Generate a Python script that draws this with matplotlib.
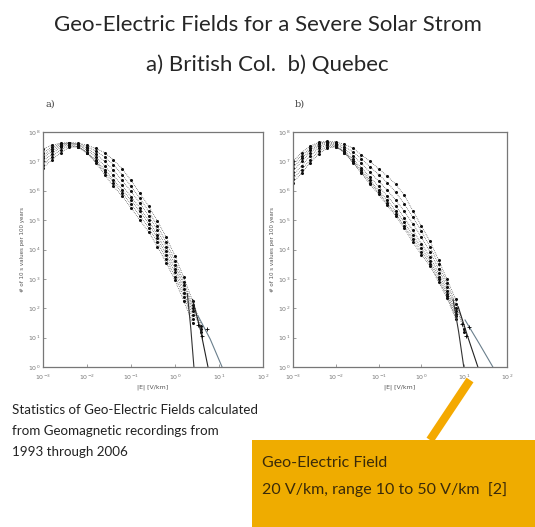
import matplotlib
matplotlib.use("Agg")
import matplotlib.pyplot as plt
from matplotlib.lines import Line2D
from matplotlib.patches import Rectangle
import numpy as np

# log10 of |E| [V/km] where the 10 s statistics were sampled
LX = [-3.0, -2.8, -2.6, -2.4, -2.2, -2.0, -1.8, -1.6, -1.4, -1.2, -1.0,
      -0.8, -0.6, -0.4, -0.2, 0.0, 0.2, 0.4, 0.6]
RX = [-3.0, -2.8, -2.6, -2.4, -2.2, -2.0, -1.8, -1.6, -1.4, -1.2, -1.0,
      -0.8, -0.6, -0.4, -0.2, 0.0, 0.2, 0.4, 0.6, 0.8, 1.0]

# log10 of number of 10 s values per 100 years, one list per station
bc_curves = [
    [7.42, 7.55, 7.62, 7.64, 7.62, 7.55, 7.44, 7.30, 7.05, 6.75, 6.35, 5.92, 5.48, 4.97, 4.42, 3.78, 3.05, 2.25, 1.40],
    [7.30, 7.48, 7.60, 7.63, 7.60, 7.50, 7.35, 7.15, 6.88, 6.55, 6.15, 5.75, 5.30, 4.80, 4.25, 3.62, 2.90, 2.10, 1.30],
    [7.20, 7.42, 7.57, 7.62, 7.57, 7.44, 7.25, 7.00, 6.70, 6.35, 5.98, 5.58, 5.15, 4.65, 4.10, 3.48, 2.78, 2.00, 1.20],
    [7.10, 7.35, 7.53, 7.60, 7.55, 7.38, 7.15, 6.85, 6.52, 6.18, 5.80, 5.42, 5.00, 4.50, 3.95, 3.35, 2.65, 1.90],
    [7.00, 7.25, 7.48, 7.57, 7.50, 7.30, 7.05, 6.72, 6.38, 6.03, 5.68, 5.30, 4.88, 4.38, 3.82, 3.22, 2.52, 1.78],
    [6.88, 7.15, 7.40, 7.53, 7.48, 7.28, 7.00, 6.65, 6.28, 5.92, 5.55, 5.15, 4.74, 4.25, 3.68, 3.08, 2.40, 1.65],
    [6.78, 7.05, 7.30, 7.48, 7.50, 7.30, 6.95, 6.55, 6.15, 5.82, 5.42, 5.00, 4.60, 4.10, 3.55, 2.95, 2.25, 1.50],
]
qc_curves = [
    [7.00, 7.30, 7.52, 7.65, 7.68, 7.66, 7.58, 7.45, 7.22, 7.00, 6.75, 6.50, 6.22, 5.85, 5.32, 4.80, 4.28, 3.65, 2.98, 2.30, 1.30],
    [6.90, 7.20, 7.45, 7.62, 7.66, 7.62, 7.50, 7.33, 7.08, 6.82, 6.55, 6.28, 5.95, 5.55, 5.10, 4.62, 4.10, 3.50, 2.85, 2.15, 1.20],
    [6.78, 7.10, 7.38, 7.58, 7.64, 7.58, 7.42, 7.20, 6.93, 6.63, 6.33, 6.02, 5.68, 5.30, 4.88, 4.42, 3.92, 3.35, 2.72, 2.02],
    [6.65, 7.00, 7.30, 7.52, 7.60, 7.55, 7.35, 7.08, 6.78, 6.46, 6.15, 5.82, 5.48, 5.08, 4.65, 4.20, 3.75, 3.20, 2.60, 1.90],
    [6.52, 6.85, 7.18, 7.45, 7.55, 7.52, 7.32, 7.02, 6.70, 6.35, 6.02, 5.68, 5.32, 4.92, 4.50, 4.05, 3.62, 3.08, 2.50, 1.80],
    [6.40, 6.72, 7.05, 7.35, 7.50, 7.50, 7.30, 6.98, 6.64, 6.28, 5.95, 5.58, 5.22, 4.80, 4.37, 3.92, 3.52, 2.98, 2.42, 1.72],
    [6.28, 6.60, 6.95, 7.25, 7.45, 7.50, 7.30, 6.95, 6.60, 6.22, 5.88, 5.50, 5.15, 4.72, 4.25, 3.82, 3.45, 2.90, 2.35, 1.65],
]

# extrapolated tails (log10 E, log10 count)
bc_fit_x = [[0.28, 0.36, 0.43], [0.40, 0.58, 0.75], [0.52, 0.80, 1.07]]
bc_fit_y = [[2.5, 1.3, 0.0], [2.3, 1.25, 0.0], [1.75, 0.95, 0.0]]
qc_fit_x = [[0.74, 0.87, 0.99], [0.86, 1.09, 1.32], [1.02, 1.35, 1.67]]
qc_fit_y = [[2.3, 1.2, 0.0], [2.05, 1.0, 0.0], [1.6, 0.8, 0.0]]
fit_colors = ['#333333', '#222222', '#6a7f8c']

bc_plus_x = [0.53, 0.72, 0.62]
bc_plus_y = [1.42, 1.30, 1.05]
qc_plus_x = [0.95, 1.12, 1.05]
qc_plus_y = [1.45, 1.35, 1.05]

xtick_exp = [-3, -2, -1, 0, 1, 2]
ytick_exp = [0, 1, 2, 3, 4, 5, 6, 7, 8]

W, H = 535, 527
fig = plt.figure(figsize=(W / 100, H / 100), dpi=100)
fig.patch.set_facecolor('white')

title_font = ['Lato', 'DejaVu Sans']
fig.text(0.5, 1 - 25 / H, "Geo-Electric Fields for a Severe Solar Strom", ha='center', va='center',
         fontsize=16, family=title_font, color='#262626')
fig.text(0.5, 1 - 65 / H, "a) British Col.  b) Quebec", ha='center', va='center',
         fontsize=16, family=title_font, color='#262626')


def draw_panel(rect, xs, curves, fit_x, fit_y, plus_x, plus_y, tag):
    ax = fig.add_axes(rect)
    x = 10 ** np.array(xs)
    for c in curves:
        ax.plot(x[:len(c)], 10 ** np.array(c), linestyle=':', lw=0.5, color='#222222',
                marker='.', ms=2.4, mec='#111111', mfc='#111111')
    for fx, fy, col in zip(fit_x, fit_y, fit_colors):
        ax.plot(10 ** np.array(fx), 10 ** np.array(fy), color=col, lw=0.8)
    ax.plot(10 ** np.array(plus_x), 10 ** np.array(plus_y), 'k+', ms=3.5, mew=0.6)
    ax.set_xscale('log')
    ax.set_yscale('log')
    ax.set_xlim(10.0 ** xtick_exp[0], 10.0 ** xtick_exp[-1])
    ax.set_ylim(10.0 ** ytick_exp[0], 10.0 ** ytick_exp[-1])
    ax.set_xticks([10.0 ** e for e in xtick_exp])
    ax.set_xticklabels([r'$10^{%d}$' % e for e in xtick_exp])
    ax.set_yticks([10.0 ** e for e in ytick_exp])
    ax.set_yticklabels([r'$10^{%d}$' % e for e in ytick_exp])
    ax.minorticks_off()
    ax.tick_params(direction='in', length=2, width=0.5, colors='#777777', labelsize=4.5)
    ax.tick_params(axis='x', pad=4)
    ax.tick_params(axis='y', pad=2)
    for s in ax.spines.values():
        s.set_color('#777777')
        s.set_linewidth(0.9)
    ax.set_xlabel('|E| [V/km]', fontsize=4.5, color='#555555', labelpad=2)
    ax.set_ylabel('# of 10 s values per 100 years', fontsize=4, color='#555555', labelpad=2)
    fig.text(rect[0] + 2 / W, rect[1] + rect[3] + 28 / H, tag, fontsize=7,
             family='DejaVu Serif', color='#444444', va='center')
    return ax


draw_panel([43 / W, 1 - 367 / H, 220 / W, 235 / H], LX, bc_curves,
           bc_fit_x, bc_fit_y, bc_plus_x, bc_plus_y, 'a)')
draw_panel([293 / W, 1 - 367 / H, 214 / W, 235 / H], RX, qc_curves,
           qc_fit_x, qc_fit_y, qc_plus_x, qc_plus_y, 'b)')

# caption under the plots
body_font = ['Lato', 'DejaVu Sans']
for i, line in enumerate(["Statistics of Geo-Electric Fields calculated",
                          "from Geomagnetic recordings from",
                          "1993 through 2006"]):
    fig.text(12 / W, 1 - (410 + 21 * i) / H, line, fontsize=9.6, family=body_font,
             color='#222222', va='center')

# highlight box and pointer
fig.patches.append(Rectangle((252 / W, 0), 1 - 252 / W, 87 / H, transform=fig.transFigure,
                             facecolor='#EFAC00', edgecolor='none', zorder=5))
fig.lines.append(Line2D([430 / W, 470 / W], [1 - 440 / H, 1 - 380 / H], transform=fig.transFigure,
                        color='#F4A900', lw=6, solid_capstyle='butt', zorder=4))
fig.text(262 / W, 1 - 463 / H, "Geo-Electric Field", fontsize=11.5, family=body_font,
         color='#3a2a0a', va='center', zorder=6)
fig.text(262 / W, 1 - 490 / H, "20 V/km, range 10 to 50 V/km  [2]", fontsize=11.5,
         family=body_font, color='#3a2a0a', va='center', zorder=6)

fig.savefig('out.png', dpi=100, facecolor='white')
